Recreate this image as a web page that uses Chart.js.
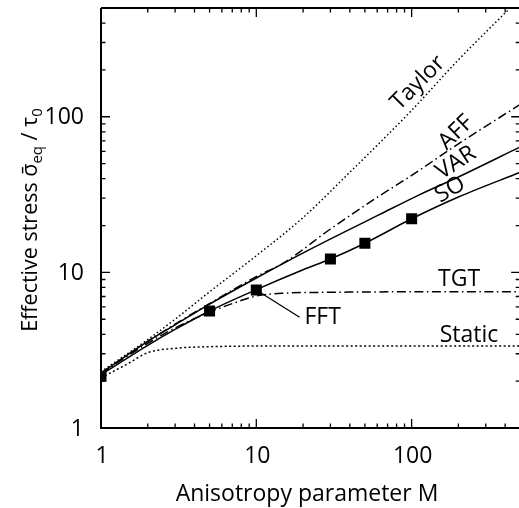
<!DOCTYPE html>
<html>
<head>
<meta charset="utf-8">
<style>
  html, body { margin: 0; padding: 0; overflow: hidden; background: #fff; }
</style>
<script src="https://cdn.jsdelivr.net/npm/chart.js@4/dist/chart.umd.min.js"></script>
</head>
<body>
<canvas id="chart" width="528" height="508"></canvas>
<script>
// curves (M = anisotropy parameter, S = effective stress)
const taylorM = [1, 2, 3, 5, 10, 20, 40, 65, 100, 200, 500];
const taylorS = [2.3, 3.7, 5.0, 7.5, 12.8, 22.5, 44, 71, 110, 232, 580];

const affM = [1, 2, 3, 5, 10, 15, 30, 62, 100, 200, 500];
const affS = [2.25, 3.6, 4.65, 6.3, 9.4, 11.5, 19, 31, 42, 67, 120];

const varM = [1, 2, 3, 5, 10, 22, 62, 112, 200, 500];
const varS = [2.25, 3.6, 4.6, 6.25, 9.2, 14, 23.5, 31.5, 41, 64];

const soM = [1, 2, 3, 5, 10, 20, 30, 50, 100, 200, 500];
const soS = [2.2, 3.4, 4.3, 5.65, 7.75, 10.4, 12.2, 15.4, 22.1, 30.5, 44];

const tgtM = [1, 2, 3, 5, 7, 10, 15, 30, 100, 500];
const tgtS = [2.25, 3.5, 4.4, 5.55, 6.3, 7.05, 7.35, 7.45, 7.5, 7.5];

const staticM = [1, 1.5, 2, 3, 5, 10, 500];
const staticS = [2.1, 2.6, 3.05, 3.25, 3.33, 3.36, 3.36];

const fftM = [1, 5, 10, 30, 50, 100];
const fftS = [2.15, 5.65, 7.7, 12.2, 15.4, 22.1];

const majorTicks = [1, 10, 100];
const tickLabels = ['1', '10', '100'];

// curve labels: text, data position, rotation in degrees
const curveLabels = [
  { text: 'Taylor', m: 110, s: 165, rot: -45 },
  { text: 'AFF', m: 193, s: 79, rot: -44 },
  { text: 'VAR', m: 193, s: 50.6, rot: -33 },
  { text: 'SO', m: 177, s: 34, rot: -30 },
  { text: 'TGT', m: 202, s: 9.0, rot: 0 },
  { text: 'Static', m: 234, s: 3.93, rot: 0 }
];
const fftLabel = { text: 'FFT', m: 20.4, s: 5.1, fromM: 10, fromS: 7.7, toM: 19, toS: 5.15 };

const FONT = '"Open Sans", "Noto Sans", sans-serif';

function pts(xs, ys) {
  return xs.map((x, i) => ({ x: x, y: ys[i] }));
}

function line(label, xs, ys, dash, width) {
  return {
    label: label,
    data: pts(xs, ys),
    borderColor: '#000',
    borderWidth: width || 1.5,
    borderDash: dash,
    pointRadius: 0,
    fill: false,
    cubicInterpolationMode: 'monotone'
  };
}

function noPad(s) {
  s.paddingTop = 0; s.paddingBottom = 0; s.paddingLeft = 0; s.paddingRight = 0;
}

const frame = {
  id: 'frame',
  afterDraw(chart) {
    const ctx = chart.ctx;
    const a = chart.chartArea;
    const xs = chart.scales.x, ys = chart.scales.y;
    ctx.save();
    ctx.strokeStyle = '#000';
    ctx.lineCap = 'butt';

    // frame
    ctx.lineWidth = 2;
    ctx.beginPath();
    ctx.moveTo(a.left, a.top); ctx.lineTo(a.left, a.bottom); ctx.lineTo(a.right, a.bottom);
    ctx.moveTo(a.left, a.top); ctx.lineTo(a.right, a.top); ctx.lineTo(a.right, a.bottom);
    ctx.stroke();

    // inward ticks on all four sides
    ctx.lineWidth = 1.3;
    const minor = [];
    [1, 10, 100].forEach(d => { for (let k = 2; k <= 9; k++) if (d * k <= 500) minor.push(d * k); });
    const tick = (v, len) => {
      const px = xs.getPixelForValue(v);
      const py = ys.getPixelForValue(v);
      ctx.beginPath();
      ctx.moveTo(px, a.bottom); ctx.lineTo(px, a.bottom - len);
      ctx.moveTo(px, a.top); ctx.lineTo(px, a.top + len);
      ctx.moveTo(a.left, py); ctx.lineTo(a.left + len, py);
      ctx.moveTo(a.right, py); ctx.lineTo(a.right - len, py);
      ctx.stroke();
    };
    majorTicks.forEach(v => tick(v, 9));
    minor.forEach(v => tick(v, 4.5));

    // tick labels
    ctx.fillStyle = '#000';
    ctx.font = '23px ' + FONT;
    ctx.textBaseline = 'middle';
    majorTicks.forEach((v, i) => {
      ctx.textAlign = 'right';
      ctx.fillText(tickLabels[i], a.left - 17, ys.getPixelForValue(v) + 1);
      ctx.textAlign = 'center';
      ctx.fillText(tickLabels[i], xs.getPixelForValue(v) + 1, 456);
    });

    // curve labels
    ctx.textAlign = 'center';
    curveLabels.forEach(l => {
      ctx.save();
      ctx.translate(xs.getPixelForValue(l.m), ys.getPixelForValue(l.s));
      ctx.rotate(l.rot * Math.PI / 180);
      ctx.fillText(l.text, 0, 0);
      ctx.restore();
    });

    // FFT label with leader
    ctx.lineWidth = 1.3;
    ctx.beginPath();
    ctx.moveTo(xs.getPixelForValue(fftLabel.fromM), ys.getPixelForValue(fftLabel.fromS));
    ctx.lineTo(xs.getPixelForValue(fftLabel.toM), ys.getPixelForValue(fftLabel.toS));
    ctx.stroke();
    ctx.textAlign = 'left';
    ctx.fillText(fftLabel.text, xs.getPixelForValue(fftLabel.m), ys.getPixelForValue(fftLabel.s));

    // x axis title
    ctx.textAlign = 'center';
    ctx.textBaseline = 'alphabetic';
    ctx.fillText('Anisotropy parameter M', 307, 501);

    // y axis title with subscripts, rotated
    ctx.save();
    ctx.translate(37, 220);
    ctx.rotate(-Math.PI / 2);
    const big = '21.5px ' + FONT, small = '15px ' + FONT;
    const parts = [
      { t: 'Effective stress \u03C3\u0304', f: big, dy: 0 },
      { t: 'eq', f: small, dy: 5 },
      { t: ' / \u03C4', f: big, dy: 0 },
      { t: '0', f: small, dy: 5 }
    ];
    let total = 0;
    parts.forEach(p => { ctx.font = p.f; p.w = ctx.measureText(p.t).width; total += p.w; });
    let x0 = -total / 2;
    ctx.textAlign = 'left';
    parts.forEach(p => { ctx.font = p.f; ctx.fillText(p.t, x0, p.dy); x0 += p.w; });
    ctx.restore();

    ctx.restore();
  }
};

new Chart(document.getElementById('chart'), {
  type: 'line',
  data: {
    datasets: [
      line('Taylor', taylorM, taylorS, [1.5, 2.5]),
      line('AFF', affM, affS, [9, 3.5, 1.5, 3.5]),
      line('VAR', varM, varS, []),
      line('SO', soM, soS, []),
      line('TGT', tgtM, tgtS, [9, 3.5, 1.5, 3.5]),
      line('Static', staticM, staticS, [2, 2.5]),
      {
        label: 'FFT',
        data: pts(fftM, fftS),
        showLine: false,
        pointStyle: 'rect',
        pointRadius: 7.8,
        backgroundColor: '#000',
        borderColor: '#000',
        borderWidth: 0
      }
    ]
  },
  options: {
    responsive: false,
    animation: false,
    layout: { padding: { top: 8, right: 3, left: 0, bottom: 0 } },
    plugins: { legend: { display: false }, tooltip: { enabled: false } },
    scales: {
      x: {
        type: 'logarithmic',
        min: 1,
        max: 500,
        grid: { display: false },
        border: { display: false },
        afterBuildTicks: s => { s.ticks = majorTicks.map(v => ({ value: v })); },
        afterFit: s => { s.height = 80; noPad(s); },
        ticks: { display: false }
      },
      y: {
        type: 'logarithmic',
        min: 1,
        max: 500,
        grid: { display: false },
        border: { display: false },
        afterBuildTicks: s => { s.ticks = majorTicks.map(v => ({ value: v })); },
        afterFit: s => { s.width = 101; noPad(s); },
        ticks: { display: false }
      }
    }
  },
  plugins: [frame]
});
</script>
</body>
</html>
